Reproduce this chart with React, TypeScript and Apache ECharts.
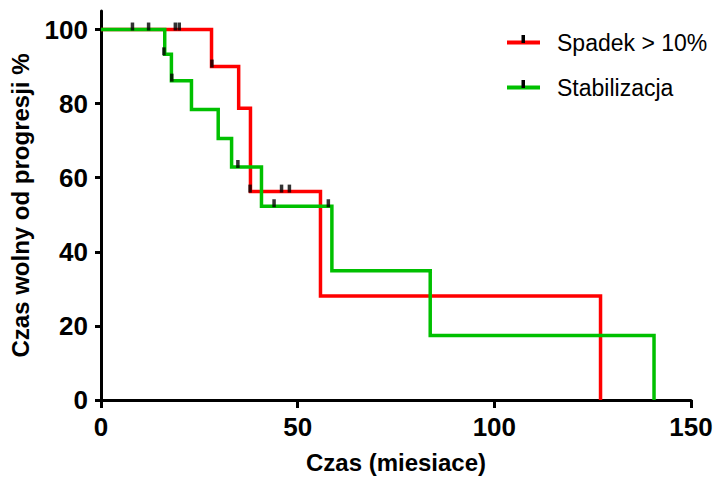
import React, { useEffect, useRef } from "react";
import * as echarts from "echarts";

// Kaplan-Meier steps: [time (months), % progression-free]
const redTimes = [0, 28.1, 35.0, 38.0, 55.8, 127.0];
const redValues = [100, 90, 78.75, 56.25, 28.1, 0];
const greenTimes = [0, 16.2, 17.9, 23.0, 29.8, 33.2, 40.8, 58.7, 83.7, 140.6];
const greenValues = [100, 93.3, 86.2, 78.4, 70.6, 62.9, 52.3, 34.9, 17.4, 0];

// censored observations
const redCensorTimes = [8.0, 12.1, 18.9, 19.9, 28.2, 37.9, 45.9, 47.9];
const redCensorValues = [100, 100, 100, 100, 90, 56.25, 56.25, 56.25];
const greenCensorTimes = [16.0, 18.0, 34.8, 44.0, 57.8];
const greenCensorValues = [93.3, 86.2, 62.9, 52.3, 52.3];

const seriesNames = ["Spadek > 10%", "Stabilizacja"];
const seriesColors = ["#FF0000", "#00C000"];
const xTicks = [0, 50, 100, 150];
const yTicks = [0, 20, 40, 60, 80, 100];
const xTitle = "Czas (miesiace)";
const yTitle = "Czas wolny od progresji %";

const FONT = "'Liberation Sans', Arial, Helvetica, sans-serif";

export default function App() {
  const ref = useRef<HTMLDivElement>(null);
  useEffect(() => {
    if (!ref.current) return;
    const chart = echarts.init(ref.current, null, { renderer: "svg" });
    const zip = (a: number[], b: number[]) => a.map((t, i) => [t, b[i]]);
    const axisText = { color: "#000", fontFamily: FONT, fontWeight: "bold" as const, fontSize: 26 };
    const legendRow = (i: number, y: number) => [
      { type: "line", shape: { x1: 507, y1: y, x2: 540, y2: y }, style: { stroke: seriesColors[i], lineWidth: 4 } },
      { type: "rect", shape: { x: 521.5, y: y - 7.5, width: 3.5, height: 8 }, style: { fill: "#000" } },
      {
        type: "text",
        x: 557,
        y: y,
        style: { text: seriesNames[i], fill: "#000", font: `23px ${FONT}`, verticalAlign: "middle", align: "left" },
      },
    ];
    chart.setOption({
      animation: false,
      backgroundColor: "#fff",
      grid: { left: 101, right: 25, top: 11, bottom: 77, containLabel: false },
      xAxis: {
        type: "value",
        min: 0,
        max: 150,
        interval: 50,
        name: xTitle,
        nameLocation: "middle",
        nameGap: 50,
        nameTextStyle: { color: "#000", fontFamily: FONT, fontWeight: "bold", fontSize: 24 },
        axisLine: { show: true, onZero: false, lineStyle: { color: "#000", width: 3 } },
        axisTick: { show: true, length: 8, lineStyle: { color: "#000", width: 3 }, customValues: xTicks },
        axisLabel: { ...axisText, margin: 14, customValues: xTicks },
        splitLine: { show: false },
      },
      yAxis: {
        type: "value",
        min: 0,
        max: 105,
        interval: 20,
        name: yTitle,
        nameLocation: "middle",
        nameGap: 69,
        nameTextStyle: { color: "#000", fontFamily: FONT, fontWeight: "bold", fontSize: 24 },
        axisLine: { show: true, onZero: false, lineStyle: { color: "#000", width: 3 } },
        axisTick: { show: true, length: 6, lineStyle: { color: "#000", width: 3 }, customValues: yTicks },
        axisLabel: { ...axisText, margin: 13, customValues: yTicks },
        splitLine: { show: false },
      },
      series: [
        {
          name: seriesNames[0],
          type: "line",
          step: "end",
          symbol: "none",
          data: zip(redTimes, redValues),
          lineStyle: { color: seriesColors[0], width: 3.5, join: "miter" },
          z: 2,
        },
        {
          name: seriesNames[1],
          type: "line",
          step: "end",
          symbol: "none",
          data: zip(greenTimes, greenValues),
          lineStyle: { color: seriesColors[1], width: 3.5, join: "miter" },
          z: 3,
        },
        {
          type: "scatter",
          symbol: "rect",
          symbolSize: [3.5, 8],
          symbolOffset: [0, -3],
          itemStyle: { color: "#000" },
          data: zip(redCensorTimes, redCensorValues),
          z: 5,
        },
        {
          type: "scatter",
          symbol: "rect",
          symbolSize: [3.5, 8],
          symbolOffset: [0, -3],
          itemStyle: { color: "#000" },
          data: zip(greenCensorTimes, greenCensorValues),
          z: 5,
        },
      ],
      graphic: [...legendRow(0, 42.5), ...legendRow(1, 87.5)],
    });
    return () => chart.dispose();
  }, []);
  return <div ref={ref} style={{ position: "fixed", left: 0, top: 0, width: 716, height: 479 }} />;
}
